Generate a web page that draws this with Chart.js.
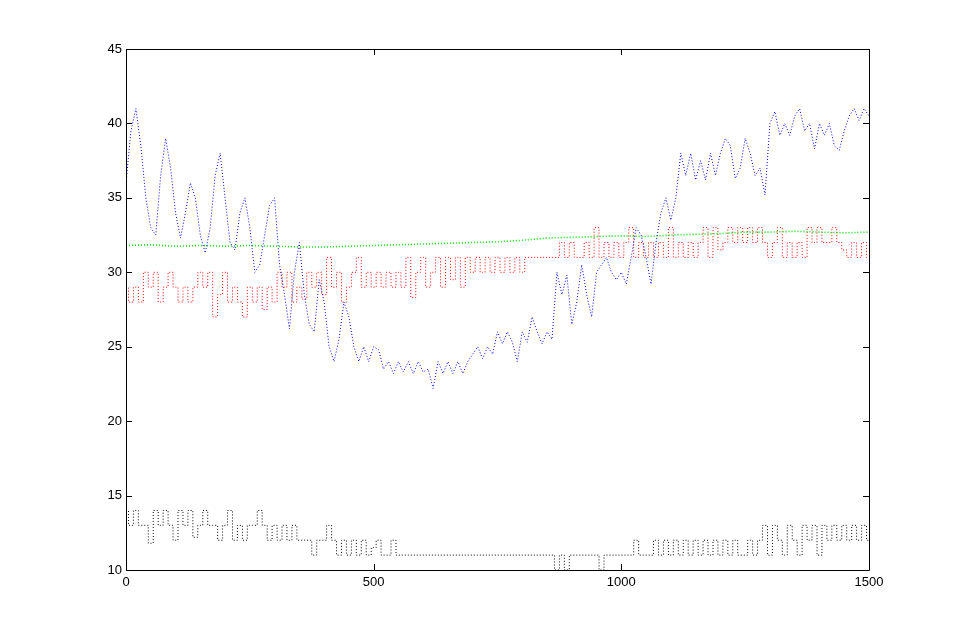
<!DOCTYPE html>
<html lang="en">
<head>
  <meta charset="UTF-8">
  <title>Sensor traces</title>
  <script src="https://cdn.jsdelivr.net/npm/chart.js"></script>
  <style>
    html, body { margin: 0; padding: 0; background: #fff; }
    #wrap { width: 962px; height: 642px; }
  </style>
</head>
<body>
  <div id="wrap"><canvas id="chart" width="962" height="642"></canvas></div>
  <script>
    // sample positions, every 10 units
    const xs = [];
    for (let x = 0; x <= 1500; x += 10) xs.push(x);

    const blueVals = [
      36, 39.5, 41, 38.5, 35, 33, 32.5, 36.5, 39, 37,
      34, 32.3, 34, 36, 35, 32.5, 31.3, 33, 36.5, 38,
      35, 32, 31.5, 34, 35, 33, 30, 30.5, 32.5, 34.5,
      35, 30.5, 28.5, 26.2, 30, 32, 28.5, 26.5, 26, 29.5,
      28, 25, 24, 25.5, 28, 27, 25, 24, 25, 24,
      25, 24.8, 23.5, 24, 23.2, 24, 23.3, 24, 23.2, 24,
      23.3, 23.5, 22.2, 24, 23.2, 24, 23.2, 24, 23.2, 24,
      24.5, 25, 24.2, 25, 24.5, 26, 25.2, 26, 25.3, 24,
      26, 25.3, 27, 26, 25.2, 26, 25.5, 30, 28.5, 29.8,
      26.5, 28, 30.5, 28.5, 27, 30, 30.5, 31, 30, 29.5,
      30, 29.2, 31, 33, 32.5, 31, 29.2, 32, 34, 35,
      33.5, 35, 38, 36.5, 38, 36.2, 37.5, 36.2, 38, 36.5,
      38, 39, 38.5, 36.3, 37, 39, 38, 36.5, 37, 35.2,
      40, 40.8, 39.2, 40, 39.2, 40.5, 41, 39.5, 40, 38.3,
      40, 39.2, 40, 38.5, 38.2, 39.5, 40.5, 41, 40.2, 41,
      40.5
    ];

    const redVals = [
      29, 28, 29, 28, 30, 29, 30, 28, 29, 30,
      29, 28, 29, 28, 29, 30, 29, 30, 27, 28.5,
      30, 28, 29, 28, 27, 29, 28, 29, 27.5, 29,
      28, 30, 29, 30, 28, 29, 28.2, 30, 29, 30,
      28.5, 31, 29, 30, 28, 29, 30, 31, 29, 30,
      29, 30, 29, 30, 29, 30, 29, 31, 28.3, 30,
      31, 29, 30, 31, 29, 31, 29.5, 31, 29, 31,
      30, 31, 30, 31, 30, 31, 30, 31, 30, 31,
      30, 31, 31, 31, 31, 31, 31, 31, 32, 31,
      32, 31, 31, 32, 31, 33, 31, 32, 31, 32,
      31, 32, 33, 31, 32, 31, 32, 31, 32, 31,
      33, 31, 32, 31, 32, 31, 32, 33, 31, 33,
      31.5, 32, 33, 32, 33, 32, 33, 32, 33, 32,
      31, 32, 33, 31, 32, 31, 32, 31, 33, 32,
      33, 32, 32, 33, 32, 31.5, 31, 32, 31, 32,
      31
    ];

    const blackVals = [
      14, 13, 14, 13, 13, 11.8, 14, 13, 14, 13,
      12, 14, 13, 14, 12.2, 13, 14, 13, 13, 12,
      13, 14, 12, 13, 12, 13, 13, 14, 13, 12,
      13, 12, 13, 12, 13, 12, 12, 12, 11, 12,
      12, 13, 12, 11, 12, 11, 12, 11, 12, 11,
      11.5, 12, 11, 11, 12, 11, 11, 11, 11, 11,
      11, 11, 11, 11, 11, 11, 11, 11, 11, 11,
      11, 11, 11, 11, 11, 11, 11, 11, 11, 11,
      11, 11, 11, 11, 11, 11, 11, 10, 11, 10,
      11, 11, 11, 11, 11, 11, 10, 11, 11, 11,
      11, 11, 11, 12, 11, 11, 11, 12, 11, 12,
      11, 12, 11, 12, 11, 12, 11, 12, 11, 12,
      11, 12, 11, 12, 11, 11, 12, 11, 12, 13,
      11, 13, 12, 11, 13, 12, 11, 13, 12, 13,
      11, 13, 12, 13, 12, 13, 12, 13, 12, 13,
      12
    ];

    // green is smooth, every 50 units
    const greenXs = [
      0, 50, 100, 150, 200, 250, 300, 350, 400, 450,
      500, 550, 600, 650, 700, 750, 800, 850, 900, 950,
      1000, 1050, 1100, 1150, 1200, 1250, 1300, 1350, 1400, 1450, 1500
    ];
    const greenVals = [
      31.8, 31.85, 31.75, 31.8, 31.75, 31.8, 31.75, 31.7, 31.7, 31.75,
      31.8, 31.85, 31.9, 31.95, 32.0, 32.05, 32.15, 32.3, 32.35, 32.4,
      32.45, 32.4, 32.5, 32.55, 32.6, 32.7, 32.7, 32.75, 32.7, 32.65, 32.7
    ];

    const xTicks = [0, 500, 1000, 1500];
    const yTicks = [10, 15, 20, 25, 30, 35, 40, 45];

    const pts = (xv, yv) => xv.map((x, i) => ({ x: x, y: yv[i] }));

    function trace(data, color, width, stepped) {
      return {
        data: data,
        borderColor: color,
        borderWidth: width,
        borderDash: [1, 2],
        pointRadius: 0,
        fill: false,
        tension: 0,
        stepped: stepped
      };
    }

    // inward ticks on all four sides plus the frame
    const boxTicks = {
      id: 'boxTicks',
      afterDraw(chart) {
        const { ctx, chartArea: a, scales: { x, y } } = chart;
        ctx.save();
        ctx.strokeStyle = '#000';
        ctx.lineWidth = 1;
        ctx.beginPath();
        ctx.rect(Math.round(a.left) + 0.5, Math.round(a.top) + 0.5,
                 Math.round(a.right - a.left), Math.round(a.bottom - a.top));
        const len = 6;
        xTicks.forEach(v => {
          const px = Math.round(x.getPixelForValue(v)) + 0.5;
          ctx.moveTo(px, a.bottom); ctx.lineTo(px, a.bottom - len);
          ctx.moveTo(px, a.top); ctx.lineTo(px, a.top + len);
        });
        yTicks.forEach(v => {
          const py = Math.round(y.getPixelForValue(v)) + 0.5;
          ctx.moveTo(a.left, py); ctx.lineTo(a.left + len, py);
          ctx.moveTo(a.right, py); ctx.lineTo(a.right - len, py);
        });
        ctx.stroke();
        ctx.restore();
      }
    };

    const tickFont = { family: 'Arial, "Liberation Sans", sans-serif', size: 13 };

    new Chart(document.getElementById('chart'), {
      type: 'line',
      data: {
        datasets: [
          trace(pts(xs, blueVals), '#0000ff', 1, false),
          trace(pts(greenXs, greenVals), '#00e000', 1.6, false),
          trace(pts(xs, redVals), '#ff0000', 1, 'middle'),
          trace(pts(xs, blackVals), '#000000', 1, 'middle')
        ]
      },
      options: {
        responsive: false,
        animation: false,
        layout: { padding: { left: 0, right: 93, top: 49, bottom: 0 } },
        plugins: { legend: { display: false }, tooltip: { enabled: false } },
        scales: {
          x: {
            type: 'linear',
            min: 0, max: 1500,
            afterBuildTicks: s => { s.ticks = xTicks.map(v => ({ value: v })); },
            afterFit: s => { s.height = 72; },
            grid: { display: false, drawTicks: false },
            border: { display: false },
            ticks: { color: '#000', font: tickFont, padding: 5, maxRotation: 0, callback: v => String(v) }
          },
          y: {
            type: 'linear',
            min: 10, max: 45,
            afterBuildTicks: s => { s.ticks = yTicks.map(v => ({ value: v })); },
            afterFit: s => { s.width = 126; },
            grid: { display: false, drawTicks: false },
            border: { display: false },
            ticks: { color: '#000', font: tickFont, padding: 4, callback: v => String(v) }
          }
        }
      },
      plugins: [boxTicks]
    });
  </script>
</body>
</html>
